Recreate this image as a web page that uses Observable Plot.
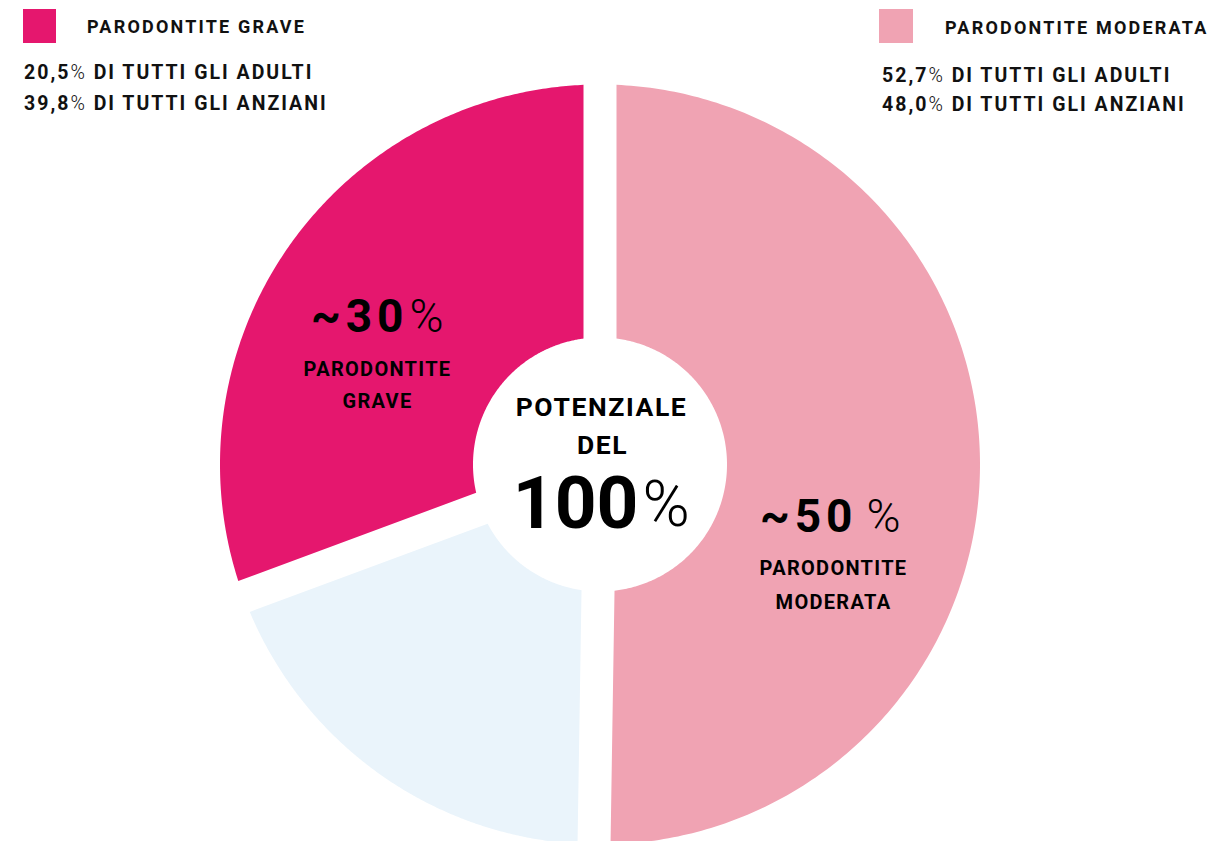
<!DOCTYPE html>
<html><head><meta charset="utf-8">
<script src="https://cdn.jsdelivr.net/npm/d3@7"></script>
<script src="https://cdn.jsdelivr.net/npm/@observablehq/plot@0.6"></script>
<style>
body{margin:0;background:#fff;font-family:Roboto, sans-serif;}
#wrap{position:relative;width:1215px;height:841px;overflow:hidden;}
.leg{position:absolute;font-weight:700;color:#111;white-space:nowrap;line-height:1;}
.sq{position:absolute;}
.pct{font-weight:300;}
g[font-size="20"] text{letter-spacing:1.3px;}
g[font-size="26.5"] text{letter-spacing:1.6px;}
g[font-size="46"][font-weight="700"] text{letter-spacing:5px;}
</style></head><body><div id="wrap"></div>
<script>
// ---- data ----
const categories = ["Parodontite moderata", "Altro", "Parodontite grave"];
const values = [50.25, 19.1, 30.65];
const colors = ["#f0a3b3", "#eaf4fb", "#e5176e"];
const bigNumbers = ["~50", "~30"];
const bigNames = [["PARODONTITE", "MODERATA"], ["PARODONTITE", "GRAVE"]];
const centerLines = ["POTENZIALE", "DEL"];
const centerBig = "100";
const legendTitles = ["PARODONTITE GRAVE", "PARODONTITE MODERATA"];
const legendLines = [["20,5", "39,8"], ["52,7", "48,0"]];
const legendSuffix = ["DI TUTTI GLI ADULTI", "DI TUTTI GLI ANZIANI"];

// ---- layout ----
const W = 1215, H = 841;
const cx = 599.5, cy = 464;
const R = 380, r = 127, gap = 33;
const font = "Roboto, sans-serif";

const total = d3.sum(values);
const h = gap / 2;
let acc = 0;
const pts = [];
categories.forEach((c, i) => {
  const a0 = acc / total * 2 * Math.PI;
  acc += values[i];
  const a1 = acc / total * 2 * Math.PI;
  const n = 240;
  const o0 = a0 + Math.asin(h / R), o1 = a1 - Math.asin(h / R);
  const i0 = a0 + Math.asin(h / r), i1 = a1 - Math.asin(h / r);
  for (let k = 0; k <= n; k++) {
    const a = o0 + (o1 - o0) * k / n;
    pts.push({cat: c, x: R * Math.sin(a), y: R * Math.cos(a)});
  }
  for (let k = 0; k <= n; k++) {
    const a = i1 + (i0 - i1) * k / n;
    pts.push({cat: c, x: r * Math.sin(a), y: r * Math.cos(a)});
  }
});

// pixel -> chart coords helper for label layout
const P = (px, py) => ({x: px - cx, y: cy - py});

const bigPos = [P(857, 516.5), P(408, 316.5)];
const pctPos = [P(866, 516.5), P(409, 316.5)];
const namePos = [[P(833, 568), P(833, 602.5)], [P(377, 369), P(377, 401.5)]];

const bigData = bigNumbers.map((t, i) => ({t, ...bigPos[i]}));
const pctData = bigNumbers.map((t, i) => ({t: "%", ...pctPos[i]}));
const nameData = bigNames.flatMap((ls, i) => ls.map((t, j) => ({t, ...namePos[i][j]})));
const centerData = centerLines.map((t, j) => ({t, ...[P(601, 407.5), P(602, 445.5)][j]}));
const c100 = [{t: centerBig, ...P(638, 504)}];
const c100p = [{t: "%", ...P(642, 505)}];

const chart = Plot.plot({
  width: W, height: H,
  margin: 0,
  x: {domain: [-cx, W - cx], axis: null},
  y: {domain: [cy - H, cy], axis: null},
  color: {domain: categories, range: colors},
  style: {background: "transparent", overflow: "hidden"},
  marks: [
    Plot.line(pts, {x: "x", y: "y", z: "cat", fill: "cat", stroke: "none", curve: "linear"}),
    Plot.text(bigData, {x: "x", y: "y", text: "t", textAnchor: "end", fontSize: 46, fontWeight: 700, fontFamily: font, fill: "#000"}),
    Plot.text(pctData, {x: "x", y: "y", text: "t", textAnchor: "start", fontSize: 46, fontWeight: 300, fontFamily: font, fill: "#000"}),
    Plot.text(nameData, {x: "x", y: "y", text: "t", fontSize: 20, fontWeight: 700, fontFamily: font, fill: "#000"}),
    Plot.text(centerData, {x: "x", y: "y", text: "t", fontSize: 26.5, fontWeight: 700, fontFamily: font, fill: "#000"}),
    Plot.text(c100, {x: "x", y: "y", text: "t", textAnchor: "end", fontSize: 73, fontWeight: 700, fontFamily: font, fill: "#000"}),
    Plot.text(c100p, {x: "x", y: "y", text: "t", textAnchor: "start", fontSize: 64, fontWeight: 300, fontFamily: font, fill: "#000"})
  ]
});
const wrap = document.getElementById("wrap");
wrap.appendChild(chart);

// ---- legend (HTML overlay) ----
const legColors = [colors[2], colors[0]];
const legLayout = [
  {sq: [23, 9, 33, 34], title: [87, 17.7], lines: [[24, 62.5], [24, 93.5]]},
  {sq: [879, 9, 34, 34], title: [945, 18.5], lines: [[882, 65.5], [882, 94.5]]}
];
legendTitles.forEach((t, i) => {
  const L = legLayout[i];
  const sq = document.createElement("div");
  sq.className = "sq";
  Object.assign(sq.style, {left: L.sq[0] + "px", top: L.sq[1] + "px", width: L.sq[2] + "px", height: L.sq[3] + "px", background: legColors[i]});
  wrap.appendChild(sq);
  const ti = document.createElement("div");
  ti.className = "leg";
  ti.textContent = t;
  Object.assign(ti.style, {left: L.title[0] + "px", top: L.title[1] + "px", fontSize: "18px", letterSpacing: "2.2px"});
  wrap.appendChild(ti);
  legendLines[i].forEach((v, j) => {
    const d = document.createElement("div");
    d.className = "leg";
    d.innerHTML = v + '<span class="pct">%</span> ' + legendSuffix[j];
    Object.assign(d.style, {left: L.lines[j][0] + "px", top: L.lines[j][1] + "px", fontSize: "19.5px", letterSpacing: "2px"});
    wrap.appendChild(d);
  });
});
</script>
</body></html>
